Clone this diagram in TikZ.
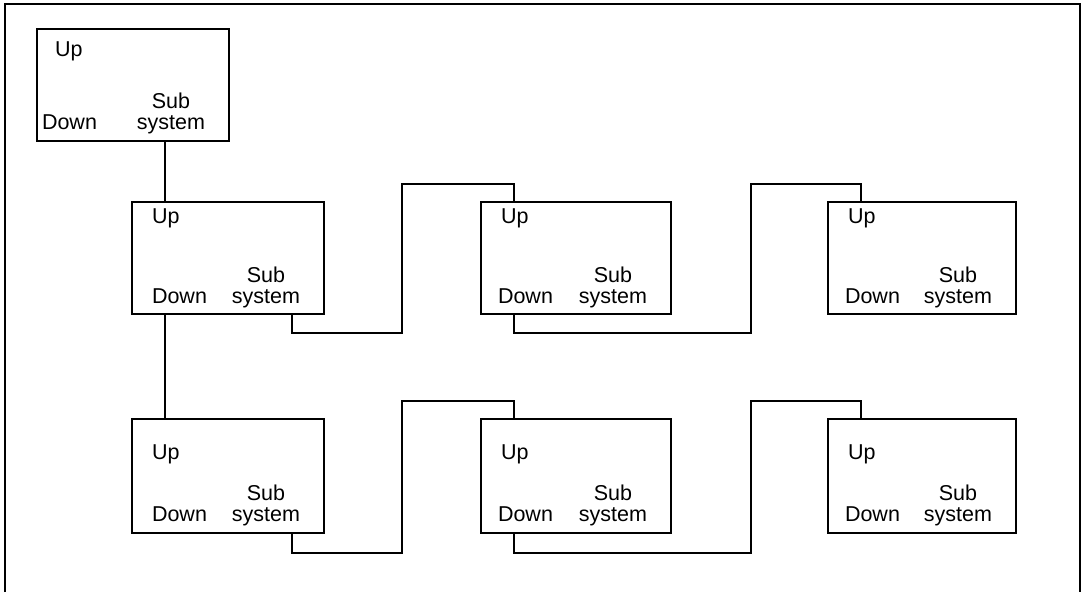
\documentclass[tikz,border=0pt]{standalone}
\usepackage{fontspec}
\setmainfont{Liberation Sans}
\usetikzlibrary{calc}
\tikzset{
  sbox/.style={draw, line width=1.5pt, inner sep=0pt, outer sep=0pt},
  lbl/.style={inner sep=0pt, outer sep=0pt, font=\fontsize{21.5pt}{25pt}\selectfont},
  conn/.style={line width=2.3pt, line join=miter},
  frame/.style={line width=2pt}
}
% name, x, y, width, height, up x, up baseline, down x, down/system baseline
\newcommand\sysbox[9]{%
  \node[sbox, minimum width=#4pt, minimum height=#5pt, anchor=north west] (#1) at (#2,#3) {};
  \node[lbl, anchor=base west] (#1-up) at ($(#1.north west)+(#6,#7)$) {Up};
  \node[lbl, anchor=base west] (#1-dn) at ($(#1.north west)+(#8,#9)$) {Down};
  \node[lbl, anchor=base] (#1-sub) at ($(#1.north west)+(#4-58,#9-21)$) {Sub};
  \node[lbl, anchor=base] (#1-sys) at ($(#1.north west)+(#4-58,#9)$) {system};
  \coordinate (#1-pu) at ($(#1.north west)+(33,0)$);
  \coordinate (#1-pd) at ($(#1.south west)+(33,0)$);
  \coordinate (#1-ps) at ($(#1.south west)+(160,0)$);
}
\begin{document}
\begin{tikzpicture}[x=1pt,y=-1pt]
\useasboundingbox (0,0) rectangle (1082,592);
\draw[frame] (5,592) -- (5,4) -- (1080,4) -- (1080,592);

\sysbox{b0}{37}{29}{192}{112}{18}{27}{5}{100}
\coordinate (b0-pt) at ($(b0.south west)+(128,0)$);

\sysbox{b11}{132}{202}{192}{112}{20}{21}{20}{101}
\sysbox{b12}{481}{202}{190}{112}{20}{21}{17}{101}
\sysbox{b13}{828}{202}{188}{112}{20}{21}{17}{101}

\sysbox{b21}{132}{419}{192}{114}{20}{40}{20}{102}
\sysbox{b22}{481}{419}{190}{114}{20}{40}{17}{102}
\sysbox{b23}{828}{419}{188}{114}{20}{40}{17}{102}

\draw[conn] (b0-pt) -- (b11-pu);
\draw[conn] (b11-pd) -- (b21-pu);

\draw[conn] (b11-ps) -- ++(0,19) -| (402,184) -| (b12-pu);
\draw[conn] (b12-pd) -- ++(0,19) -| (751,184) -| (b13-pu);

\draw[conn] (b21-ps) -- ++(0,20) -| (402,401) -| (b22-pu);
\draw[conn] (b22-pd) -- ++(0,20) -| (751,401) -| (b23-pu);
\end{tikzpicture}
\end{document}
